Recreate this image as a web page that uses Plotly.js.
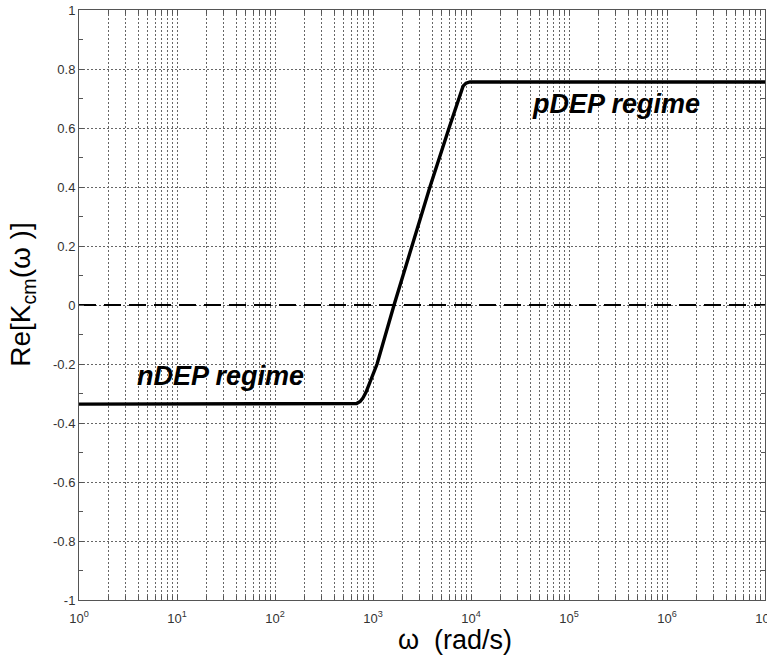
<!DOCTYPE html>
<html>
<head>
<meta charset="utf-8">
<script src="https://cdn.plot.ly/plotly-3.0.1.min.js"></script>
<style>html,body{margin:0;padding:0;background:#fff;}#chart{width:767px;height:658px;}</style>
</head>
<body>
<div id="chart"></div>
<script>
// Frequency (rad/s) and Re[Kcm]
const omega = [1, 10, 100, 300, 600, 680, 740, 790, 850, 930, 1010, 1100, 1640, 2480, 3810, 5970, 6600, 7200, 7730, 8300, 8900, 9770, 1e5, 1e6, 1e7];
const reK   = [-0.336, -0.336, -0.336, -0.336, -0.336, -0.334, -0.327, -0.315, -0.295, -0.262, -0.232, -0.2, 0.0, 0.2, 0.4, 0.6, 0.645, 0.686, 0.718, 0.742, 0.752, 0.756, 0.756, 0.756, 0.756];
// zero reference line
const zeroX = [1, 1e7];
const zeroY = [0, 0];
// axis ticks
const xTickVals = [1, 10, 100, 1000, 1e4, 1e5, 1e6, 1e7];
const xTickText = ['10<sup>0</sup>', '10<sup>1</sup>', '10<sup>2</sup>', '10<sup>3</sup>', '10<sup>4</sup>', '10<sup>5</sup>', '10<sup>6</sup>', '10<sup>7</sup>'];
const yTickVals = [-1, -0.8, -0.6, -0.4, -0.2, 0, 0.2, 0.4, 0.6, 0.8, 1];
const yTickText = ['-1', '-0.8', '-0.6', '-0.4', '-0.2', '0', '0.2', '0.4', '0.6', '0.8', '1'];
// annotations
const labels = ['nDEP regime', 'pDEP regime'];
const labelX = [27.5, 3.0e5];
const labelY = [-0.24, 0.68];
const xTitle = 'ω\u00a0\u00a0(rad/s)';
const yTitle = 'Re[K<sub>cm</sub>(ω\u00a0)]';

const traces = [
  {x: zeroX, y: zeroY, mode: 'lines', line: {color: '#000', width: 2, dash: '17px,8px'}, hoverinfo: 'skip', showlegend: false},
  {x: omega, y: reK, mode: 'lines', line: {color: '#000', width: 3.4}, showlegend: false}
];

const gridStyle = {gridcolor: '#666', gridwidth: 1, griddash: '2px,2px'};
const FONT = 'Liberation Sans, Arial, sans-serif';

const annotations = labels.map((t, i) => ({
  x: Math.log10(labelX[i]), y: labelY[i], xref: 'x', yref: 'y',
  text: '<b><i>' + t + '</i></b>', showarrow: false,
  font: {size: 27, color: '#000', family: FONT}
}));
annotations.push({
  x: 0.548, y: -0.068, xref: 'paper', yref: 'paper', xanchor: 'center', yanchor: 'middle',
  text: xTitle, showarrow: false, font: {size: 27, color: '#000', family: FONT}
});
annotations.push({
  x: -0.082, y: 0.517, xref: 'paper', yref: 'paper', xanchor: 'center', yanchor: 'middle',
  textangle: -90, text: yTitle, showarrow: false, font: {size: 28, color: '#000', family: FONT}
});

const layout = {
  width: 767, height: 658,
  margin: {l: 79, r: 2, t: 10, b: 58},
  paper_bgcolor: '#fff', plot_bgcolor: '#fff',
  font: {family: FONT, color: '#333'},
  showlegend: false,
  xaxis: Object.assign({
    type: 'log', range: [0, 7], autorange: false,
    tickmode: 'array', tickvals: xTickVals, ticktext: xTickText,
    ticks: 'inside', ticklen: 5, tickcolor: '#555',
    showline: true, linecolor: '#555', linewidth: 1, mirror: 'ticks',
    zeroline: false, showgrid: true,
    ticklabelstandoff: 6, ticklabeloverflow: 'allow',
    tickfont: {size: 13, color: '#333'},
    minor: {dtick: 'D1', showgrid: true, gridcolor: '#666', gridwidth: 1, griddash: '2px,2px', ticks: 'inside', ticklen: 4, tickcolor: '#555'}
  }, gridStyle),
  yaxis: Object.assign({
    range: [-1, 1], autorange: false,
    tickmode: 'array', tickvals: yTickVals, ticktext: yTickText,
    ticks: 'inside', ticklen: 5, tickcolor: '#555',
    showline: true, linecolor: '#555', linewidth: 1, mirror: 'ticks',
    zeroline: false, showgrid: true,
    tickfont: {size: 13, color: '#333'},
    minor: {dtick: 0.1, showgrid: false, ticks: 'inside', ticklen: 4, tickcolor: '#555'}
  }, gridStyle),
  annotations: annotations
};

Plotly.newPlot('chart', traces, layout, {staticPlot: true, displayModeBar: false});
</script>
</body>
</html>
